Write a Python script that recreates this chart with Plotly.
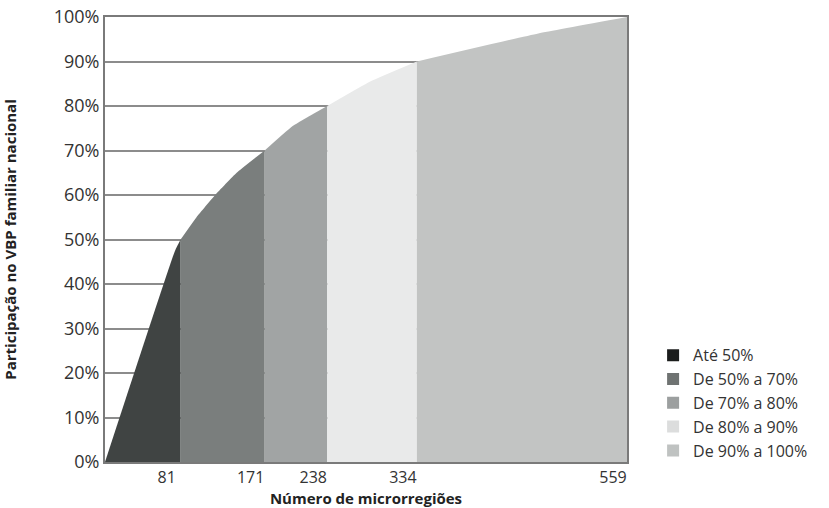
import plotly.graph_objects as go

# Curva acumulada: número de microrregiões x participação no VBP familiar
curve_x = [0, 75, 81, 98, 118, 141, 171, 201, 238, 284, 334, 464, 559]
curve_y = [0, 47.5, 50, 55, 60, 65, 70, 75.5, 80, 85.5, 90, 96.3, 100]

boundaries = [0, 81, 171, 238, 334, 559]
tick_labels = ["81", "171", "238", "334", "559"]
y_ticks = list(range(0, 101, 10))
y_labels = [f"{v}%" for v in y_ticks]

names = ["Até 50%", "De 50% a 70%", "De 70% a 80%", "De 80% a 90%", "De 90% a 100%"]
fill_colors = ["#404443", "#7a7e7d", "#a1a4a4", "#e9eaea", "#c2c4c3"]
legend_colors = ["#1b1d1c", "#6f7372", "#9c9f9f", "#dcdddd", "#bfc2c1"]

fig = go.Figure()

# Faixas preenchidas sob a curva
for i in range(len(names)):
    lo, hi = boundaries[i], boundaries[i + 1]
    xs = [x for x in curve_x if lo <= x <= hi]
    ys = [y for x, y in zip(curve_x, curve_y) if lo <= x <= hi]
    fig.add_trace(go.Scatter(
        x=xs, y=ys,
        mode='lines',
        fill='tozeroy',
        fillcolor=fill_colors[i],
        line=dict(width=0, color=fill_colors[i], shape='spline', smoothing=0.4),
        showlegend=False,
        hoverinfo='skip'
    ))

# Entradas da legenda
for name, color in zip(names, legend_colors):
    fig.add_trace(go.Scatter(
        x=[None], y=[None],
        mode='markers',
        name=name,
        marker=dict(symbol='square', size=12, color=color)
    ))

fig.update_layout(
    width=829, height=508,
    margin=dict(l=105, r=202, t=17, b=46),
    plot_bgcolor='white',
    paper_bgcolor='white',
    font=dict(family="Open Sans, Noto Sans, sans-serif", size=16, color="#333333"),
    legend=dict(
        x=1.05, y=0.278, xanchor='left', yanchor='top',
        font=dict(size=16, color="#333333"),
        itemwidth=30,
        tracegroupgap=0
    ),
    xaxis=dict(
        range=[0, 559],
        tickvals=boundaries[1:],
        ticktext=tick_labels,
        ticklabelshift=-14,
        tickfont=dict(size=16),
        showgrid=False,
        zeroline=False,
        showline=True, linecolor="#7a7a7a", linewidth=2, mirror=True,
        ticks='',
        automargin=False,
        title=dict(text="<b>Número de microrregiões</b>", standoff=0,
                   font=dict(size=15, color="#222222"))
    ),
    yaxis=dict(
        range=[0, 100],
        tickvals=y_ticks,
        ticktext=y_labels,
        tickfont=dict(size=18),
        ticklabeloverflow='allow',
        showgrid=True, gridcolor="#8c8c8c", gridwidth=1.5,
        zeroline=False,
        showline=True, linecolor="#7a7a7a", linewidth=2, mirror=True,
        ticks='',
        automargin=False,
        title=dict(text="<b>Participação no VBP familiar nacional</b>", standoff=33,
                   font=dict(size=15, color="#222222"))
    ),
)

# sem a margem padrão do body, a figura ocupa a janela inteira
fig.write_html("out.html", config={"displayModeBar": False},
               post_script="document.body.style.margin = '0';")
